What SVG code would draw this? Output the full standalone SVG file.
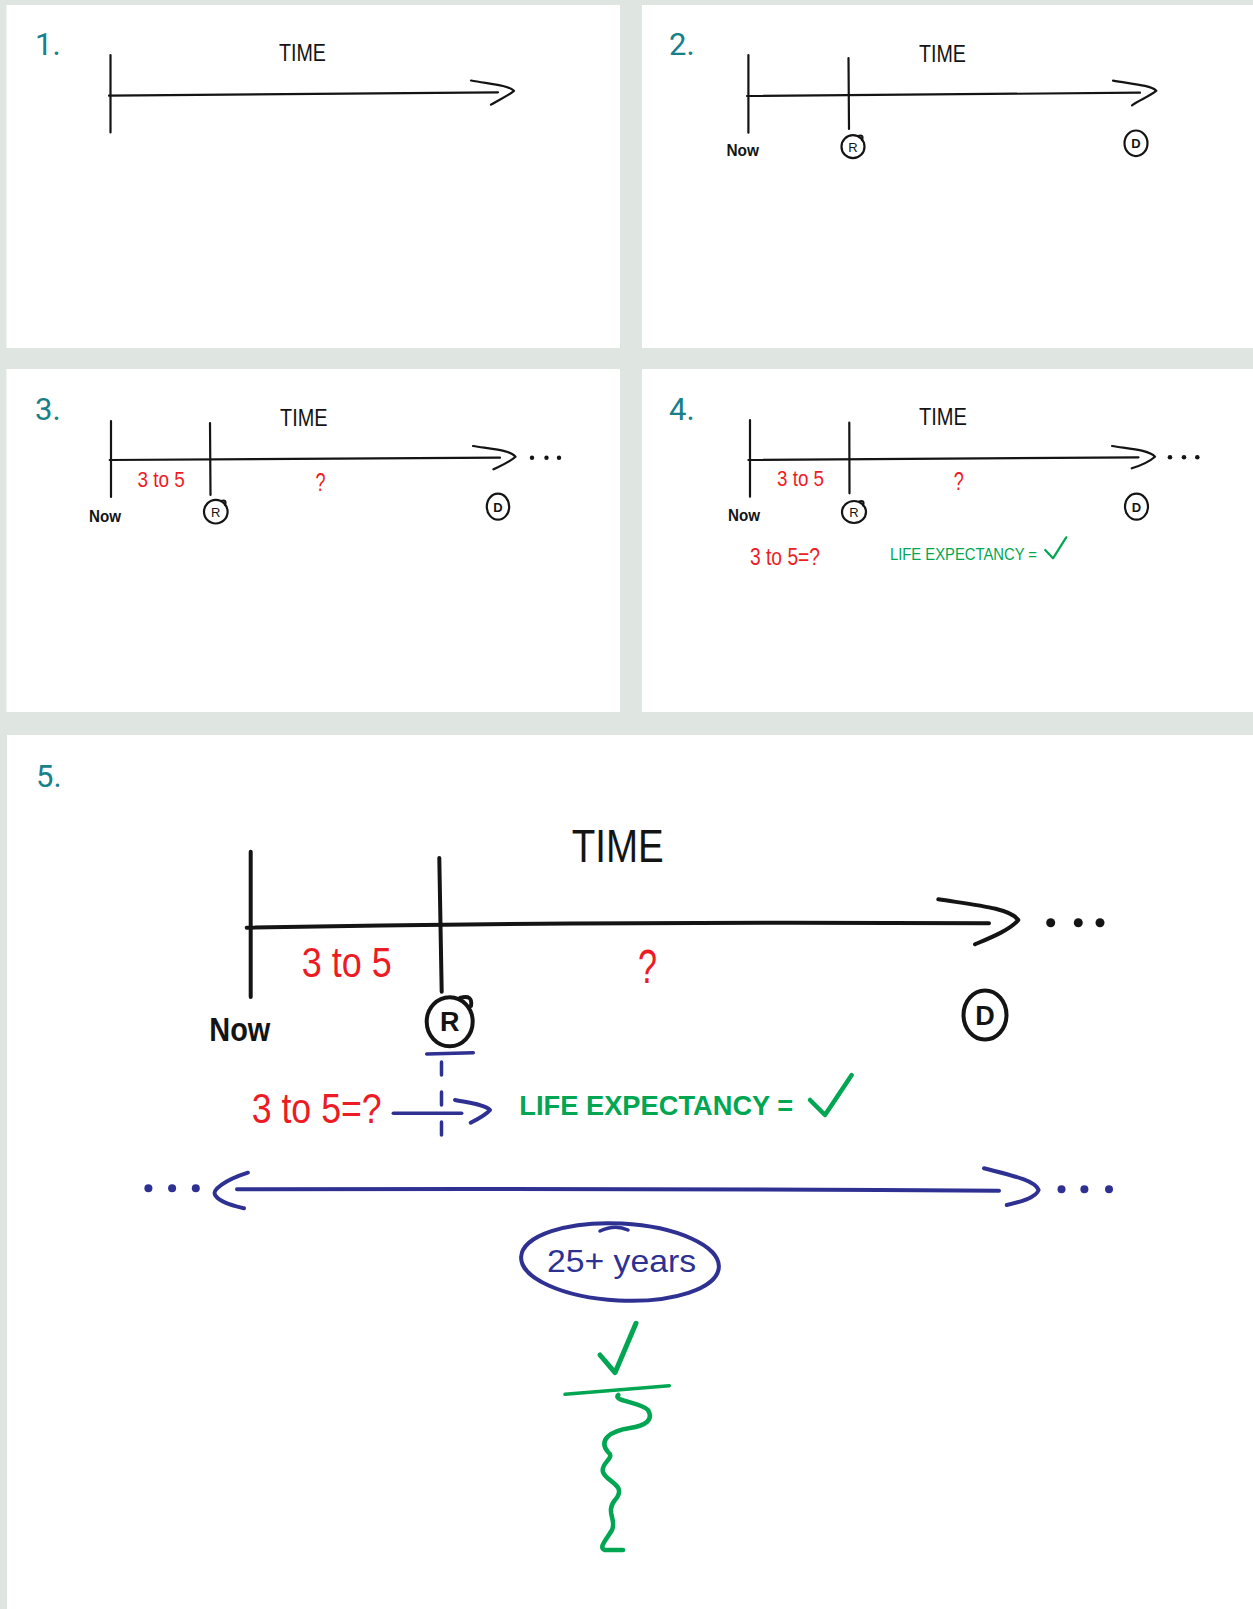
<svg xmlns="http://www.w3.org/2000/svg" width="1253" height="1609" viewBox="0 0 1253 1609">
<style>
.bg{fill:#dfe6e2}
.panel{fill:#ffffff}
.num{font-family:Roboto,"Liberation Sans",sans-serif;font-size:31px;fill:#17808b}
.ink{fill:none;stroke:#141414;stroke-linecap:round;stroke-linejoin:round}
.s2{stroke-width:2.2}
.s4{stroke-width:4}
.blue{fill:none;stroke:#2e3192;stroke-linecap:round;stroke-linejoin:round}
.green{fill:none;stroke:#00a651;stroke-linecap:round;stroke-linejoin:round}
.txt{font-family:"Liberation Sans",Arial,sans-serif}
.k{fill:#141414}
.r{fill:#ed1c24}
.g{fill:#00a651}
.b{fill:#2e3192}
.dot{fill:#141414}
.bdot{fill:#2e3192}
</style>

<rect class="bg" x="0" y="0" width="1253" height="1609"/>

<g id="panel1">
<rect class="panel" x="6.5" y="5" width="613.5" height="343"/>
<text class="num" x="35" y="55">1.</text>
<text class="txt k" x="279" y="61" font-size="23" textLength="47" lengthAdjust="spacingAndGlyphs">TIME</text>
<path class="ink s2" d="M110.5,55 L110.5,132.5"/>
</g>

<g id="panel2">
<rect class="panel" x="642" y="5" width="611" height="343"/>
<text class="num" x="669" y="55">2.</text>
<text class="txt k" x="919" y="62" font-size="23" textLength="47" lengthAdjust="spacingAndGlyphs">TIME</text>
<path class="ink s2" d="M748.4,55 L748.4,132.7 M848.5,58 L849,129"/>
<text class="txt k" x="726.5" y="156" font-size="17" font-weight="bold" textLength="32.5" lengthAdjust="spacingAndGlyphs">Now</text>
<g id="p2-R"><ellipse class="ink s2" cx="853" cy="146.7" rx="11.5" ry="11.5"/><path class="ink s2" d="M858,136 Q864,134 862,140"/><text class="txt k" x="853" y="151.5" font-size="13" text-anchor="middle">R</text></g>
<g id="p2-D"><ellipse class="ink s2" cx="1136" cy="143.3" rx="11.5" ry="12.8"/><text class="txt k" x="1136" y="148" font-size="13" font-weight="bold" text-anchor="middle">D</text></g>
</g>

<g id="panel3">
<rect class="panel" x="6.5" y="369" width="613.5" height="343"/>
<text class="num" x="35" y="420">3.</text>
<text class="txt k" x="280" y="425.7" font-size="23" textLength="47.5" lengthAdjust="spacingAndGlyphs">TIME</text>
<path class="ink s2" d="M111,421 L111,497 M210,423 L210.5,495"/>
<text class="txt r" x="137.4" y="486.7" font-size="22" textLength="47.4" lengthAdjust="spacingAndGlyphs">3 to 5</text>
<text class="txt r" x="315.4" y="491" font-size="26" textLength="10" lengthAdjust="spacingAndGlyphs">?</text>
<text class="txt k" x="89" y="521.7" font-size="17" font-weight="bold" textLength="32" lengthAdjust="spacingAndGlyphs">Now</text>
<g id="p3-R"><ellipse class="ink s2" cx="215.8" cy="511.7" rx="11.8" ry="11.8"/><path class="ink s2" d="M221,501 Q227,499 225,505"/><text class="txt k" x="215.8" y="516.5" font-size="13" text-anchor="middle">R</text></g>
<g id="p3-D"><ellipse class="ink s2" cx="498" cy="506.7" rx="11.2" ry="13"/><text class="txt k" x="498" y="511.5" font-size="13" font-weight="bold" text-anchor="middle">D</text></g>
<circle class="dot" cx="532" cy="457.7" r="2.2"/><circle class="dot" cx="546.5" cy="457.7" r="2.2"/><circle class="dot" cx="559" cy="457.7" r="2.2"/>
</g>

<g id="panel4">
<rect class="panel" x="642" y="369" width="611" height="343"/>
<text class="num" x="669" y="420">4.</text>
<text class="txt k" x="919" y="425" font-size="23" textLength="48" lengthAdjust="spacingAndGlyphs">TIME</text>
<path class="ink s2" d="M750,420 L750,496.7 M849.3,422.7 L849.5,493.3"/>
<text class="txt r" x="777" y="486" font-size="22" textLength="47" lengthAdjust="spacingAndGlyphs">3 to 5</text>
<text class="txt r" x="953.8" y="490" font-size="26" textLength="10" lengthAdjust="spacingAndGlyphs">?</text>
<text class="txt k" x="728" y="520.7" font-size="17" font-weight="bold" textLength="32" lengthAdjust="spacingAndGlyphs">Now</text>
<g id="p4-R"><ellipse class="ink s2" cx="854" cy="512" rx="12" ry="11"/><path class="ink s2" d="M859,501.5 Q865,499.5 863,505.5"/><text class="txt k" x="854" y="516.8" font-size="13" text-anchor="middle">R</text></g>
<g id="p4-D"><ellipse class="ink s2" cx="1136.5" cy="506.7" rx="11.5" ry="13"/><text class="txt k" x="1136.5" y="511.5" font-size="13" font-weight="bold" text-anchor="middle">D</text></g>
<circle class="dot" cx="1170" cy="457.3" r="2.3"/><circle class="dot" cx="1184" cy="457.3" r="2.3"/><circle class="dot" cx="1197.3" cy="457.3" r="2.3"/>
<text class="txt r" x="750" y="565" font-size="24" textLength="70" lengthAdjust="spacingAndGlyphs">3 to 5=?</text>
<text class="txt g" x="890" y="560" font-size="17" textLength="147" lengthAdjust="spacingAndGlyphs">LIFE EXPECTANCY =</text>
<path class="green" stroke-width="2.2" d="M1045.2,550 L1053,558.3 L1066.2,537.3"/>
</g>

<g id="panel5">
<rect class="panel" x="7" y="735" width="1246" height="874"/>
<text class="num" x="36" y="787">5.</text>
<text class="txt k" x="571.7" y="861.7" font-size="46" textLength="92" lengthAdjust="spacingAndGlyphs">TIME</text>
<path class="ink s4" d="M250.7,851.7 L250.7,997 M439.3,858 L441.7,991.7"/>
<text class="txt r" x="301.7" y="976.7" font-size="42" textLength="90" lengthAdjust="spacingAndGlyphs">3 to 5</text>
<text class="txt r" x="638" y="983.3" font-size="48" textLength="19" lengthAdjust="spacingAndGlyphs">?</text>
<text class="txt k" x="209.3" y="1040.7" font-size="34" font-weight="bold" textLength="61" lengthAdjust="spacingAndGlyphs">Now</text>
<g id="p5-R"><ellipse class="ink s4" cx="449.7" cy="1021.7" rx="23" ry="24.5"/><path class="ink s4" d="M460,998 Q473,994 471,1006"/><text class="txt k" x="449.7" y="1031" font-size="27" font-weight="bold" text-anchor="middle">R</text></g>
<g id="p5-D"><ellipse class="ink s4" cx="985" cy="1015" rx="21.5" ry="24.5"/><text class="txt k" x="985" y="1024.5" font-size="27" font-weight="bold" text-anchor="middle">D</text></g>
<circle class="dot" cx="1050.7" cy="922.7" r="4.5"/><circle class="dot" cx="1078.3" cy="922.7" r="4.5"/><circle class="dot" cx="1100" cy="922.7" r="4.5"/>
<text class="txt r" x="251.7" y="1123.3" font-size="42" textLength="130" lengthAdjust="spacingAndGlyphs">3 to 5=?</text>
<text class="txt g" x="519.3" y="1115" font-size="28" font-weight="bold" textLength="274" lengthAdjust="spacingAndGlyphs">LIFE EXPECTANCY =</text>
<path class="green" stroke-width="4.5" d="M810,1100 L825,1115 L851.7,1075"/>
<path class="blue" stroke-width="3.5" d="M426.7,1054 L473.3,1052.7"/>
<path class="blue" stroke-width="3.5" stroke-dasharray="13 17" d="M441.5,1062 L441.5,1137"/>
<circle class="bdot" cx="148.4" cy="1188.3" r="4"/><circle class="bdot" cx="172.1" cy="1188.3" r="4"/><circle class="bdot" cx="195.8" cy="1188.3" r="4"/>
<circle class="bdot" cx="1061.5" cy="1189.3" r="4"/><circle class="bdot" cx="1084.4" cy="1189.3" r="4"/><circle class="bdot" cx="1109" cy="1189.3" r="4"/>
<g id="p5-years">
<ellipse class="blue" stroke-width="4" cx="620" cy="1262" rx="99" ry="38.5" transform="rotate(3 620 1262)"/>
<path class="blue" stroke-width="3.5" d="M600,1231 Q615,1224 628,1230"/>
<text class="txt b" x="547" y="1272" font-size="32" textLength="149" lengthAdjust="spacingAndGlyphs">25+ years</text>
</g>
<path class="green" stroke-width="5" d="M600,1355 L615,1372.7 L636,1323.3"/>
<path class="green" stroke-width="3.5" d="M565,1394.3 L669.3,1385.7"/>
<path class="green" stroke-width="4.5" d="M618.3,1395 C612,1401 640,1402 648,1410 C654,1420 645,1426 630,1428 C610,1431 598,1440 608,1452 C616,1458 600,1463 603,1472 C606,1482 628,1485 615,1500 C605,1512 617,1520 612,1530 C606,1540 598,1548 605,1550 L623,1550"/>
</g>

<g id="connectors">
<path class="ink s2" d="M109,95.7 L498,92.3"/>
<path class="ink s2" d="M471,80.5 C490,84 508,85 514,90.8 C508,96 498,100 491,104.7"/>
<path class="ink s2" d="M747,96 L1140,92.7"/>
<path class="ink s2" d="M1113,80.7 C1132,84 1150,85 1156.4,90.7 C1150,96 1140,100 1132,105.3"/>
<path class="ink s2" d="M109.7,460 L500,457.7"/>
<path class="ink s2" d="M473,446 C492,449 510,450 515.5,456.7 C510,462 500,466 493.4,469.3"/>
<path class="ink s2" d="M748.4,460 L1138.5,457.3"/>
<path class="ink s2" d="M1112,446 C1131,449 1149,450 1155,456.7 C1149,462 1139,466 1131.8,468.3"/>
<path class="ink s4" d="M246.7,927.7 Q600,921 989,923.3"/>
<path class="ink s4" d="M938.3,899.3 C975,905 1010,908 1018.3,920 C1010,930 990,938 975,944.3"/>
<path class="blue" stroke-width="3.5" d="M393.3,1113.3 L461.7,1113.3"/>
<path class="blue" stroke-width="4" d="M455,1100 C470,1103 486,1105 490,1110 C486,1115 478,1119 470.7,1122.7"/>
<path class="blue" stroke-width="4" d="M237,1189.3 Q600,1188 999,1190.7"/>
<path class="blue" stroke-width="4" d="M247.9,1172.7 C225,1180 212,1190 215,1195 C220,1203 235,1206 244,1208.3"/>
<path class="blue" stroke-width="4" d="M984,1168.3 C1010,1175 1035,1180 1038.6,1190 C1036,1198 1020,1202 1006.8,1205"/>
</g>
</svg>
